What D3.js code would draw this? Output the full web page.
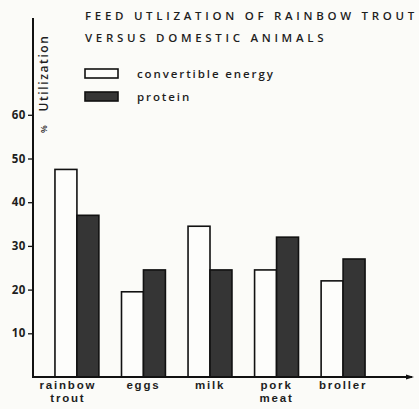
<!DOCTYPE html>
<html>
<head>
<meta charset="utf-8">
<style>
  body { margin: 0; background: #fbfbf8; }
  text { font-family: "Open Sans", "DejaVu Sans", sans-serif; fill: #1e1e1e; }
</style>
</head>
<body>
<script src="https://d3js.org/d3.v7.min.js"></script>
<script>
var categories = ["rainbow\ntrout", "eggs", "milk", "pork\nmeat", "broller"];
var energy = [47.5, 19.5, 34.5, 24.5, 22];
var protein = [37, 24.5, 24.5, 32, 27];
var yTicks = [10, 20, 30, 40, 50, 60];
var series = ["convertible energy", "protein"];
var titleLines = ["FEED UTLIZATION OF RAINBOW TROUT", "VERSUS DOMESTIC ANIMALS"];

var width = 419, height = 409;
var x0 = 33, y0 = 377;

var svg = d3.select("body").append("svg").attr("width", width).attr("height", height);

var x = d3.scaleBand().domain(categories).range([x0, 387]).paddingInner(0.34).paddingOuter(0.33);
var xs = d3.scaleBand().domain(series).range([0, x.bandwidth()]);
var y = d3.scaleLinear().domain([0, 10]).range([y0, y0 - 43.7]);

var fills = ["#fdfdfb", "#353535"];

// bars
var groups = svg.selectAll("g.grp")
  .data(categories)
  .enter().append("g")
  .attr("class", "grp")
  .attr("transform", function(d) { return "translate(" + x(d) + ",0)"; });

groups.selectAll("rect")
  .data(function(d, i) { return [energy[i], protein[i]]; })
  .enter().append("rect")
  .attr("x", function(d, j) { return xs(series[j]); })
  .attr("y", function(d) { return y(d); })
  .attr("width", xs.bandwidth())
  .attr("height", function(d) { return y0 - y(d); })
  .attr("fill", function(d, j) { return fills[j]; })
  .attr("stroke", "#111")
  .attr("stroke-width", 1.6);

// y axis
var yAxis = d3.axisLeft(y).tickValues(yTicks).tickSize(5).tickPadding(2);
var ga = svg.append("g").attr("transform", "translate(" + x0 + ",0)").call(yAxis);
ga.select(".domain").remove();
ga.selectAll("line").attr("stroke", "#111").attr("stroke-width", 1.3);
ga.selectAll("text").style("font-size", "11.5px").style("font-weight", "700").style("letter-spacing", "0.6px").attr("fill", "#1e1e1e");

svg.append("line").attr("x1", x0).attr("x2", x0).attr("y1", 18).attr("y2", y0 + 1)
  .attr("stroke", "#111").attr("stroke-width", 2);
svg.append("line").attr("x1", x0).attr("x2", 412).attr("y1", y0).attr("y2", y0)
  .attr("stroke", "#111").attr("stroke-width", 1.8);
svg.append("path").attr("d", "M406,374.5 L414,377 L406,379.5 Z").attr("fill", "#111");

// category labels, one text per line
var catLines = [];
categories.forEach(function(d) {
  d.split("\n").forEach(function(s, k) { catLines.push({ cat: d, line: s, k: k }); });
});
svg.selectAll("text.cat")
  .data(catLines)
  .enter().append("text")
  .attr("class", "cat")
  .attr("text-anchor", "middle")
  .attr("x", function(d) { return x(d.cat) + x.bandwidth() / 2 - (d.cat.indexOf("rainbow") === 0 ? 9 : 0); })
  .attr("y", function(d) { return 389 + d.k * 13; })
  .style("font-family", "'Liberation Sans', Arial, sans-serif")
  .style("font-size", "11.5px").style("font-weight", "700").style("letter-spacing", "1.8px")
  .text(function(d) { return d.line; });

// y label
svg.append("text")
  .attr("transform", "translate(48,73) rotate(-90)")
  .attr("text-anchor", "middle")
  .style("font-size", "12px").style("font-weight", "600").style("letter-spacing", "1.6px")
  .text("Utilization");
svg.append("text")
  .attr("transform", "translate(47,129) rotate(-90)")
  .attr("text-anchor", "middle")
  .style("font-size", "9px").style("font-weight", "600")
  .text("%");

// title
svg.selectAll("text.title")
  .data(titleLines)
  .enter().append("text")
  .attr("class", "title")
  .attr("x", 85)
  .attr("y", function(d, i) { return 20 + i * 22; })
  .style("font-size", "11.5px").style("font-weight", "600").style("letter-spacing", "3.7px")
  .text(function(d) { return d; });

// legend
var lg = svg.selectAll("g.leg")
  .data(series)
  .enter().append("g")
  .attr("class", "leg")
  .attr("transform", function(d, i) { return "translate(85," + (69 + i * 23) + ")"; });
lg.append("rect").attr("width", 33).attr("height", 9)
  .attr("fill", function(d, i) { return fills[i]; })
  .attr("stroke", "#111").attr("stroke-width", 1.6);
lg.append("text").attr("x", 52).attr("y", 9)
  .style("font-size", "11.5px").style("font-weight", "600").style("letter-spacing", "1.9px")
  .text(function(d) { return d; });
</script>
</body>
</html>
